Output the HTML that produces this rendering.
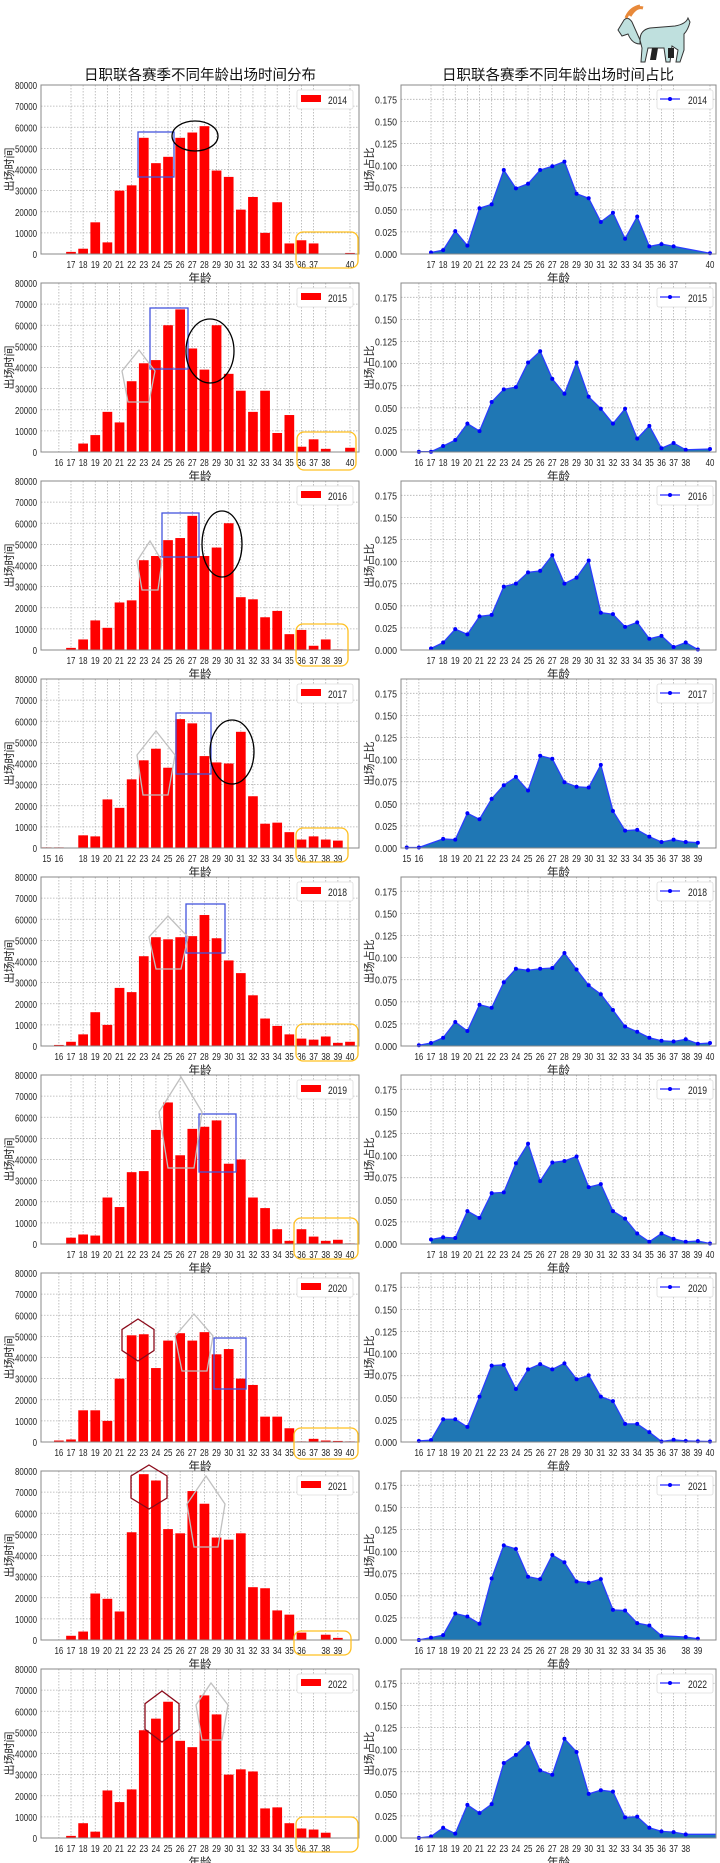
<!DOCTYPE html>
<html><head><meta charset="utf-8">
<style>
html,body{margin:0;padding:0;background:#fff;}
svg{display:block;font-family:"Liberation Sans","Noto Sans CJK SC",sans-serif;}
</style></head>
<body>
<svg id="s" width="720" height="1863" viewBox="0 0 720 1863" xmlns="http://www.w3.org/2000/svg">
<g id="goat">
  <path d="M640,40 Q640,30 650,28 L675,26 Q686,24 688,18 L690,22 Q688,30 684,34 L684,50 L680,62 L676,62 L678,50 L672,46 L670,62 L666,62 L664,48 L648,48 L645,62 L641,62 L642,48 Z" fill="#bfe0de" stroke="#333" stroke-width="1"/>
  <path d="M640,40 L632,22 Q628,16 624,20 L618,30 L622,36 L628,34 Q632,44 640,44 Z" fill="#bfe0de" stroke="#333" stroke-width="1"/>
  <path d="M626,18 Q630,8 640,6 M630,16 Q636,6 643,8" stroke="#e8893a" stroke-width="3" fill="none"/>
  <path d="M652,48 L650,60 L656,60 L658,48 Z M668,48 L668,58 L674,58 L674,48 Z" fill="#222"/>
</g>
</svg>
<script>
(function(){
const S=document.getElementById('s');
const NS='http://www.w3.org/2000/svg';
function el(t,a,txt){const e=document.createElementNS(NS,t);for(const k in a)e.setAttribute(k,a[k]);if(txt!==undefined)e.textContent=txt;S.appendChild(e);return e;}
const years=[2014,2015,2016,2017,2018,2019,2020,2021,2022];
const D=[
{17:1,18:2.5,19:15,20:5.5,21:30,22:32.5,23:55,24:43,25:46,26:55,27:57.5,28:60.5,29:39.5,30:36.5,31:21,32:27,33:10,34:24.5,35:5,36:6.5,37:5,40:0.5},
{16:0.2,17:0.2,18:4,19:8,20:19,21:14,22:33.5,23:42,24:43.5,25:60,26:67.5,27:49,28:39,29:60,30:37,31:29,32:19,33:29,34:9,35:17.5,36:2.5,37:6,38:1.5,40:2},
{17:1,18:5,19:14,20:10.5,21:22.5,22:23.5,23:42.5,24:44.5,25:52,26:53,27:63.5,28:44.5,29:48.5,30:60,31:25,32:24,33:15.5,34:18.5,35:7.5,36:9.5,37:2,38:5,39:0.3},
{15:0.3,16:0.3,18:6,19:5.5,20:23,21:19,22:32.5,23:41.5,24:47,25:38,26:61,27:59,28:43.5,29:40.5,30:40,31:55,32:24.5,33:11.5,34:12,35:7.5,36:4,37:5.5,38:4,39:3.5},
{16:0.5,17:2,18:5.5,19:16,20:10,21:27.5,22:25.5,23:42.5,24:51.5,25:50.5,26:51.5,27:52,28:62,29:51,30:40.5,31:34.5,32:24,33:13,34:9.5,35:5.5,36:3.5,37:3,38:4.5,39:1.5,40:2},
{17:3,18:4.5,19:4,20:22,21:17.5,22:34,23:34.5,24:54,25:67,26:42,27:54.5,28:55.5,29:58.5,30:38,31:40,32:22,33:17,34:7,35:1.5,36:7,37:3.5,38:1.5,39:2,40:0.3},
{16:0.7,17:1.2,18:15,19:15,20:10,21:30,22:50.5,23:51,24:35,25:48,26:51.5,27:48,28:52,29:41.5,30:44,31:30,32:27,33:12,34:12,35:6.5,36:0.3,37:1.5,38:0.7,39:0.5,40:0.3},
{16:0.05,17:2,18:4,19:22,20:19.5,21:13.5,22:51,23:78.5,24:75.5,25:52.5,26:50.5,27:70.5,28:64.5,29:48.5,30:47.5,31:50.5,32:25,33:24.5,34:14,35:12,36:3.5,38:2.5,39:1},
{16:0.05,17:1,18:7,19:3,20:22.5,21:17,22:23,23:51,24:56.5,25:64.5,26:46,27:43,28:67.5,29:58.5,30:30,31:32.5,32:31.5,33:14,34:14.5,35:7,36:4.5,37:4,38:2.5}
];
const LX0=41,LX1=359,RX0=401,RX1=716,H=169;
const lx=a=>71+(a-17)*12.13, rx=a=>431+(a-17)*12.13;
const TC='#222';
function tk(x,y,s,anchor){el('text',{x:x,y:y,'font-size':10.5,'text-anchor':anchor,fill:TC,textLength:s.length*4.4,lengthAdjust:'spacingAndGlyphs'},s);}
for(let i=0;i<9;i++){
  const top=85+198*i,bot=top+H,d=D[i],ages=Object.keys(d).map(Number).sort((a,b)=>a-b);
  el('rect',{x:LX0,y:top,width:LX1-LX0,height:H,fill:'#fff'});
  for(let v=0;v<=80;v+=10){const y=bot-v*2.1125;
    el('line',{x1:LX0,x2:LX1,y1:y,y2:y,stroke:'#b0b0b0','stroke-width':0.8,'stroke-dasharray':'1.5,1.5'});
    tk(37,y+4,String(v*1000),'end');}
  ages.forEach(a=>{const x=lx(a);el('line',{x1:x,x2:x,y1:top,y2:bot,stroke:'#b0b0b0','stroke-width':0.8,'stroke-dasharray':'1.5,1.5'});
    tk(x,bot+14,String(a),'middle');});
  ages.forEach(a=>{const h=d[a]*2.1125;el('rect',{x:lx(a)-4.85,y:bot-h,width:9.7,height:h,fill:'#ff0000'});});
  el('rect',{x:LX0,y:top,width:LX1-LX0,height:H,fill:'none',stroke:'#888','stroke-width':1});
  el('text',{x:9,y:top+H/2+4,'font-size':11,'text-anchor':'middle',transform:`rotate(-90 9 ${top+H/2})`,fill:TC},'出场时间');
  el('text',{x:(LX0+LX1)/2,y:bot+28,'font-size':11.5,'text-anchor':'middle',fill:TC},'年龄');
  el('rect',{x:297,y:top+5,width:56,height:19,fill:'#fff',stroke:'#ddd','stroke-width':0.8,rx:2});
  el('rect',{x:301,y:top+10,width:20,height:7,fill:'#ff0000'});
  el('text',{x:328,y:top+19,'font-size':11,fill:TC,textLength:19,lengthAdjust:'spacingAndGlyphs'},String(years[i]));
  el('rect',{x:RX0,y:top,width:RX1-RX0,height:H,fill:'#fff'});
  for(let k=0;k<=7;k++){const v=k*0.025,y=bot-v*884;
    el('line',{x1:RX0,x2:RX1,y1:y,y2:y,stroke:'#b0b0b0','stroke-width':0.8,'stroke-dasharray':'1.5,1.5'});
    el('text',{x:397,y:y+4,'font-size':10.5,'text-anchor':'end',fill:TC,textLength:22,lengthAdjust:'spacingAndGlyphs'},v.toFixed(3));}
  ages.forEach(a=>{const x=rx(a);el('line',{x1:x,x2:x,y1:top,y2:bot,stroke:'#b0b0b0','stroke-width':0.8,'stroke-dasharray':'1.5,1.5'});
    tk(x,bot+14,String(a),'middle');});
  const sum=ages.reduce((s,a)=>s+d[a],0);
  const pts=ages.map(a=>[rx(a),bot-d[a]/sum*884]);
  let area=`M${pts[0][0]},${bot} `+pts.map(p=>`L${p[0]},${p[1]}`).join(' ');
  const last=pts[pts.length-1];
  if(i===8){area+=` L${RX1},${last[1]} L${RX1},${bot} Z`;}else area+=` L${last[0]},${bot} Z`;
  el('path',{d:area,fill:'#1f77b4'});
  let line=pts.map(p=>p.join(',')).join(' ');
  if(i===8) line+=` ${RX1},${last[1]}`;
  el('polyline',{points:line,fill:'none',stroke:'#2a3cff','stroke-width':1.3});
  pts.forEach(p=>el('circle',{cx:p[0],cy:p[1],r:2,fill:'#0000ff'}));
  el('rect',{x:RX0,y:top,width:RX1-RX0,height:H,fill:'none',stroke:'#888','stroke-width':1});
  el('text',{x:369,y:top+H/2+4,'font-size':11,'text-anchor':'middle',transform:`rotate(-90 369 ${top+H/2})`,fill:TC},'出场占比');
  el('text',{x:(RX0+RX1)/2,y:bot+28,'font-size':11.5,'text-anchor':'middle',fill:TC},'年龄');
  el('rect',{x:657,y:top+5,width:56,height:19,fill:'#fff',stroke:'#ddd','stroke-width':0.8,rx:2});
  el('line',{x1:660,x2:680,y1:top+14,y2:top+14,stroke:'#7a7aff','stroke-width':2});
  el('circle',{cx:670,cy:top+14,r:2,fill:'#0000ff'});
  el('text',{x:688,y:top+19,'font-size':11,fill:TC,textLength:19,lengthAdjust:'spacingAndGlyphs'},String(years[i]));
}
el('text',{x:200,y:80,'font-size':14.5,'text-anchor':'middle',fill:'#111'},'日职联各赛季不同年龄出场时间分布');
el('text',{x:558,y:80,'font-size':14.5,'text-anchor':'middle',fill:'#111'},'日职联各赛季不同年龄出场时间占比');
const blue=[[138,132,174,177],[150,308,188,369],[162,513,199,557],[176,713,211,774],[186,904,225,953],[199,1114,236,1172],[214,1338,246,1389]];
blue.forEach(b=>el('rect',{x:b[0],y:b[1],width:b[2]-b[0],height:b[3]-b[1],fill:'none',stroke:'#4455dd','stroke-width':1.3}));
const ell=[[195,136,23,15],[210,351,24,32],[222,544,20,33],[232,752,22,32]];
ell.forEach(e=>el('ellipse',{cx:e[0],cy:e[1],rx:e[2],ry:e[3],fill:'none',stroke:'#000','stroke-width':1.3}));
const yel=[[296,232,358,268],[297,432,356,470],[296,624,348,666],[296,828,348,862],[296,1024,358,1061],[294,1218,358,1259],[294,1428,358,1459],[294,1631,351,1655],[296,1817,358,1852]];
yel.forEach(b=>el('rect',{x:b[0],y:b[1],width:b[2]-b[0],height:b[3]-b[1],rx:7,fill:'none',stroke:'#ffc020','stroke-width':1.3}));
const pent=[[[139,350],[155,371],[149,402],[128,402],[122,371]],[[150,541],[162,561],[158,590],[142,590],[137,561]],[[156,731],[175,755],[168,795],[143,795],[137,755]],[[168,916],[188,937],[181,969],[156,969],[149,937]],[[181,1077],[202,1112],[194,1168],[168,1168],[159,1112]],[[194,1314],[213,1336],[207,1371],[182,1371],[175,1336]],[[206,1476],[225,1504],[218,1547],[194,1547],[187,1504]],[[211,1683],[228,1705],[222,1740],[202,1740],[196,1705]]];
pent.forEach(p=>el('polygon',{points:p.map(q=>q.join(',')).join(' '),fill:'none',stroke:'#c0c0c0','stroke-width':1.3}));
const hex=[[138,122,154,1319,1361],[149,131,167,1465,1509],[162,145,179,1691,1742]];
hex.forEach(h=>{const [c,l,r,t,b]=h,q=(b-t)/4;el('polygon',{points:`${c},${t} ${r},${t+q} ${r},${b-q} ${c},${b} ${l},${b-q} ${l},${t+q}`,fill:'none',stroke:'#8b0a1a','stroke-width':1.3});});
S.appendChild(document.getElementById('goat'));
})();
</script>
</body></html>
